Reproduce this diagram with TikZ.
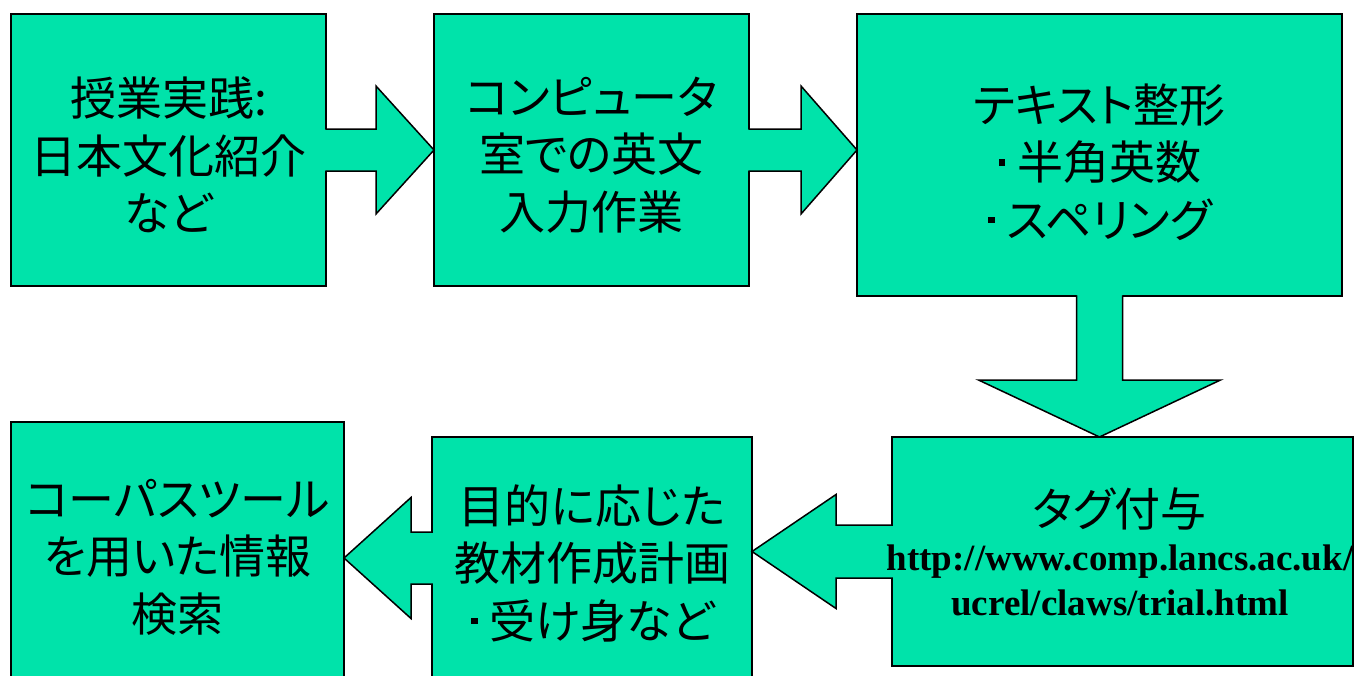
\documentclass[tikz,border=0pt]{standalone}
\usepackage{fontspec}
\newfontfamily\jp[RawFeature=+palt]{Noto Sans CJK JP}
\newfontfamily\tm{Liberation Serif}
\usetikzlibrary{calc}
\definecolor{boxgreen}{RGB}{0,227,170}
\newcommand{\bul}{\hspace{0.03em}\rule[0.30em]{0.14em}{0.14em}\hspace{0.26em}}
\begin{document}
\begin{tikzpicture}[x=1pt,y=-1pt,
  box/.style={draw=black, fill=boxgreen, line width=1.5pt, outer sep=0pt, inner sep=0pt},
  arrowfill/.style={fill=boxgreen},
  arrowline/.style={draw=black, line width=1.5pt, line join=miter},
  jtxt/.style={font=\jp\fontsize{46pt}{57.5pt}\selectfont, align=center, inner sep=0pt},
  urltxt/.style={font=\tm\bfseries\fontsize{37pt}{45pt}\selectfont, align=center, inner sep=0pt}]
\clip (0,0) rectangle (1354,675);

% boxes
\node[box, minimum width=315pt, minimum height=272pt] (b1) at (168.5,150) {};
\node[box, minimum width=315pt, minimum height=272pt] (b2) at (591.5,150) {};
\node[box, minimum width=485pt, minimum height=282pt] (b3) at (1099.5,155) {};
\node[box, minimum width=461pt, minimum height=229pt] (b6) at (1122.5,551.5) {};
\node[box, minimum width=320pt, minimum height=272pt] (b5) at (592,573) {};
\node[box, minimum width=333pt, minimum height=272pt] (b4) at (177.5,558) {};

% arrow b1 -> b2
\coordinate (a1s) at (b1.east);
\coordinate (a1t) at (b2.west);
\fill[arrowfill] ($(a1s)+(-2,-21)$) -- ($(a1t)+(-58,-21)$) -- ($(a1t)+(-58,-64)$) -- (a1t)
  -- ($(a1t)+(-58,64)$) -- ($(a1t)+(-58,21)$) -- ($(a1s)+(-2,21)$) -- cycle;
\draw[arrowline] ($(a1s)+(-0.75,-21)$) -- ($(a1t)+(-58,-21)$) -- ($(a1t)+(-58,-64)$) -- (a1t)
  -- ($(a1t)+(-58,64)$) -- ($(a1t)+(-58,21)$) -- ($(a1s)+(-0.75,21)$);

% arrow b2 -> b3
\coordinate (a2s) at (b2.east);
\coordinate (a2t) at (b3.west |- b2.east);
\fill[arrowfill] ($(a2s)+(-2,-21)$) -- ($(a2t)+(-56,-21)$) -- ($(a2t)+(-56,-64)$) -- (a2t)
  -- ($(a2t)+(-56,64)$) -- ($(a2t)+(-56,21)$) -- ($(a2s)+(-2,21)$) -- cycle;
\draw[arrowline] ($(a2s)+(-0.75,-21)$) -- ($(a2t)+(-56,-21)$) -- ($(a2t)+(-56,-64)$) -- (a2t)
  -- ($(a2t)+(-56,64)$) -- ($(a2t)+(-56,21)$) -- ($(a2s)+(-0.75,21)$);

% arrow b3 -> b6 (down)
\coordinate (a3s) at (b3.south);
\coordinate (a3t) at (b3.south |- b6.north);
\fill[arrowfill] ($(a3s)+(-23,-2)$) -- ($(a3t)+(-23,-57)$) -- ($(a3t)+(-121,-57)$) -- (a3t)
  -- ($(a3t)+(121,-57)$) -- ($(a3t)+(23,-57)$) -- ($(a3s)+(23,-2)$) -- cycle;
\draw[arrowline] ($(a3s)+(-23,-0.75)$) -- ($(a3t)+(-23,-57)$) -- ($(a3t)+(-121,-57)$) -- (a3t)
  -- ($(a3t)+(121,-57)$) -- ($(a3t)+(23,-57)$) -- ($(a3s)+(23,-0.75)$);

% arrow b6 -> b5 (left)
\coordinate (a4s) at (b6.west);
\coordinate (a4t) at (b5.east |- b6.west);
\fill[arrowfill] ($(a4s)+(2,-26.5)$) -- ($(a4t)+(84,-26.5)$) -- ($(a4t)+(84,-57)$) -- (a4t)
  -- ($(a4t)+(84,57)$) -- ($(a4t)+(84,26.5)$) -- ($(a4s)+(2,26.5)$) -- cycle;
\draw[arrowline] ($(a4s)+(0.75,-26.5)$) -- ($(a4t)+(84,-26.5)$) -- ($(a4t)+(84,-57)$) -- (a4t)
  -- ($(a4t)+(84,57)$) -- ($(a4t)+(84,26.5)$) -- ($(a4s)+(0.75,26.5)$);

% arrow b5 -> b4 (left)
\coordinate (a5s) at (b5.west |- b4.east);
\coordinate (a5t) at (b4.east);
\fill[arrowfill] ($(a5s)+(2,-26)$) -- ($(a5t)+(67,-26)$) -- ($(a5t)+(67,-60.5)$) -- (a5t)
  -- ($(a5t)+(67,60.5)$) -- ($(a5t)+(67,26)$) -- ($(a5s)+(2,26)$) -- cycle;
\draw[arrowline] ($(a5s)+(0.75,-26)$) -- ($(a5t)+(67,-26)$) -- ($(a5t)+(67,-60.5)$) -- (a5t)
  -- ($(a5t)+(67,60.5)$) -- ($(a5t)+(67,26)$) -- ($(a5s)+(0.75,26)$);

% texts
\node[jtxt] (t1) at ($(b1.center)+(0,5)$) {授業実践:\\日本文化紹介\\など};
\node[jtxt] (t2) at ($(b2.center)+(0,5)$) {コンピュータ\\室での英文\\入力作業};
\node[jtxt] (t3) at ($(b3.center)+(0,7)$) {テキスト整形\\\bul 半角英数\\\bul スペリング};
\node[jtxt] (t4) at ($(b4.center)+(0,-1)$) {コーパスツール\\を用いた情報\\検索};
\node[jtxt] (t5) at ($(b5.center)+(0,-10)$) {目的に応じた\\教材作成計画\\\bul 受け身など};
\node[jtxt] (t6) at (1120,509) {タグ付与};
\node[urltxt] (u6) at (1120,580) {http://www.comp.lancs.ac.uk/\\ucrel/claws/trial.html};
\end{tikzpicture}
\end{document}
